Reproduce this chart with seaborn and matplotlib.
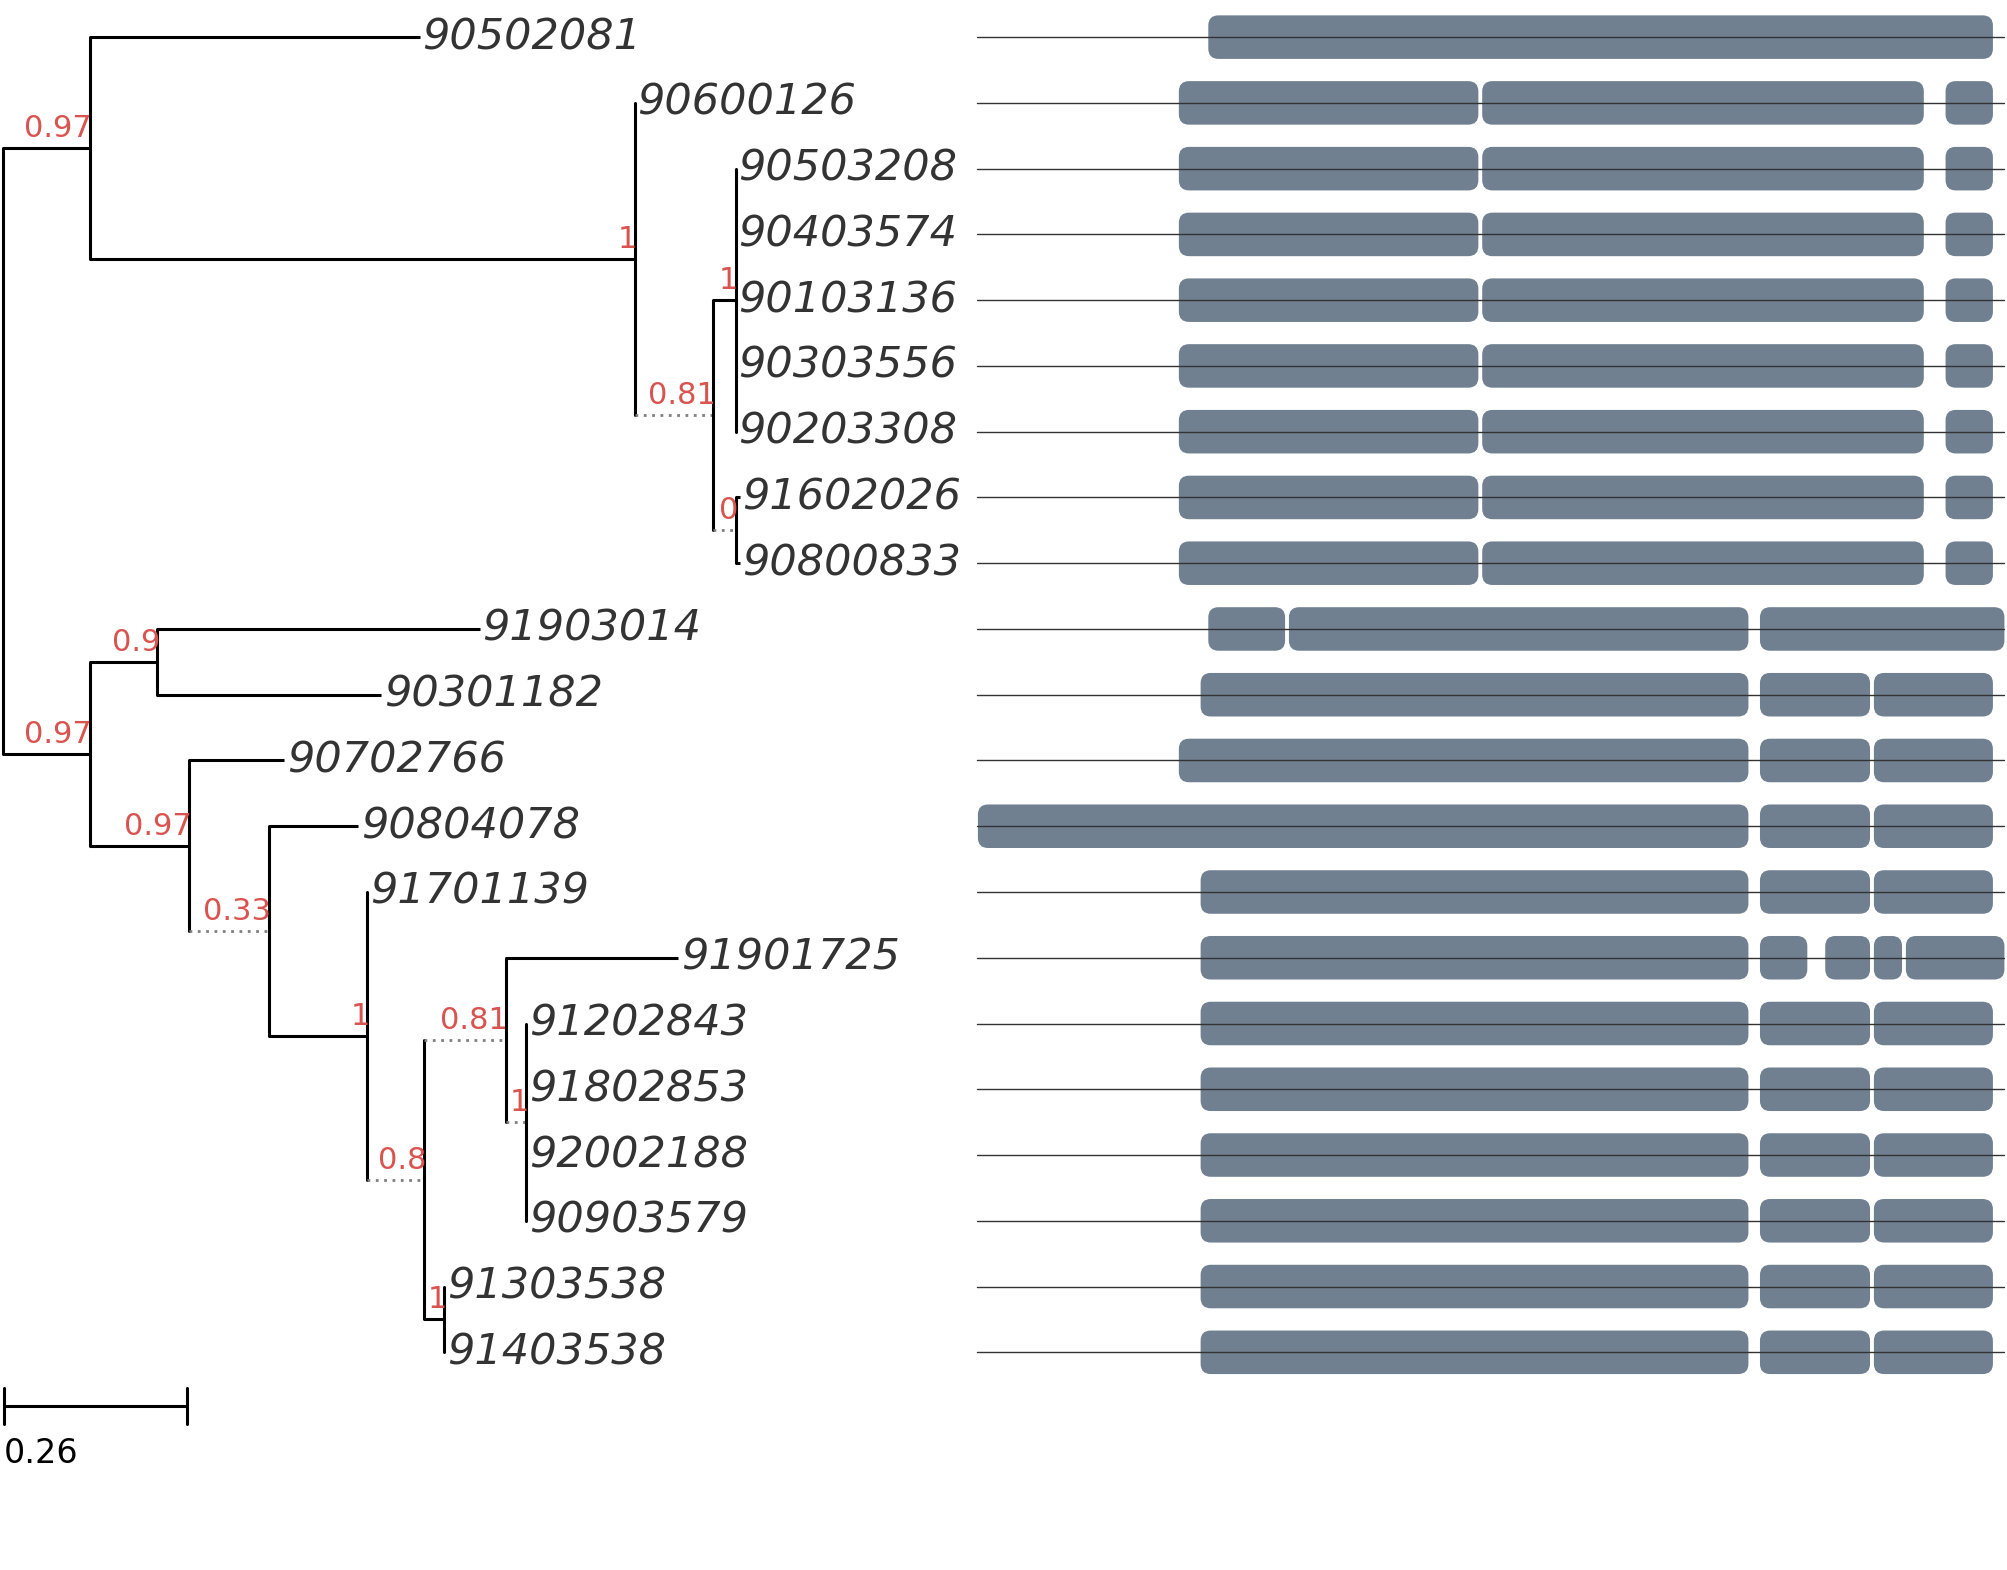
import seaborn as sns
import matplotlib.pyplot as plt
from matplotlib.patches import FancyBboxPatch

# leaf order (top to bottom) and tip depth (tree units, px-like)
leaf_names = ["90502081", "90600126", "90503208", "90403574", "90103136", "90303556",
              "90203308", "91602026", "90800833", "91903014", "90301182", "90702766",
              "90804078", "91701139", "91901725", "91202843", "91802853", "92002188",
              "90903579", "91303538", "91403538"]
leaf_tips = [328, 496, 575, 575, 575, 575, 575, 578, 578, 375, 298, 222,
             280, 287, 530, 411, 411, 411, 411, 347, 347]

# internal nodes: name -> (depth, support, children, dotted stem)
nodes = {
    "root": (2, None, ["A", "F"], False),
    "A": (70, "0.97", [0, "B"], False),
    "B": (496, "1", [1, "C"], False),
    "C": (557, "0.81", ["D", "E"], True),
    "D": (575, "1", [2, 3, 4, 5, 6], False),
    "E": (575, "0", [7, 8], True),
    "F": (70, "0.97", ["G", "H"], False),
    "G": (123, "0.9", [9, 10], False),
    "H": (148, "0.97", [11, "I"], False),
    "I": (210, "0.33", [12, "J"], True),
    "J": (287, "1", [13, "K"], False),
    "K": (331, "0.8", ["L", "N"], True),
    "L": (395, "0.81", [14, "M"], True),
    "M": (411, "1", [15, 16, 17, 18], True),
    "N": (347, "1", [19, 20], False),
}

# gene structure blocks (exon start, end) per leaf
exons_a = [(921, 1155), (1158, 1503), (1520, 1557)]
exons_b = [(938, 1366), (1375, 1461), (1464, 1557)]
gene_blocks = [[(944, 1557)]] + [exons_a] * 8 + [
    [(944, 1004), (1007, 1366), (1375, 1566)],
    exons_b,
    [(921, 1366), (1375, 1461), (1464, 1557)],
    [(764, 1366), (1375, 1461), (1464, 1557)],
    exons_b,
    [(938, 1366), (1375, 1412), (1426, 1461), (1464, 1486), (1489, 1566)],
] + [exons_b] * 6
gene_start, gene_end = 763, 1566
scale_len = 143
scale_label = "0.26"

sns.set_style("white")
plt.rcParams['font.family'] = ['DejaVu Sans']
fig = plt.figure(figsize=(20.07, 15.70), dpi=100)
ax = fig.add_axes([0, 0, 1, 1])
ax.set_xlim(0, 1568)
ax.set_ylim(1226, 0)
ax.axis("off")

row_y = [29 + i * 51.35 for i in range(len(leaf_names))]
red = "#d9534f"


def node_y(key):
    if isinstance(key, int):
        return row_y[key]
    return sum(node_y(c) for c in nodes[key][2]) / len(nodes[key][2])


def draw(key, parent_x):
    if isinstance(key, int):
        y = row_y[key]
        x = leaf_tips[key]
        ax.plot([parent_x, x], [y, y], color="black", lw=2.2, solid_capstyle="butt")
        ax.text(x + 2, y, leaf_names[key], fontsize=31, style="italic",
                color="#333333", va="center", ha="left")
        return
    x, sup, children, dotted = nodes[key]
    y = node_y(key)
    if parent_x is not None:
        if dotted:
            ax.plot([parent_x, x], [y, y], color="gray", lw=2, ls=(0, (1, 2)))
        else:
            ax.plot([parent_x, x], [y, y], color="black", lw=2.2, solid_capstyle="butt")
    ys = [node_y(c) for c in children]
    ax.plot([x, x], [min(ys), max(ys)], color="black", lw=2.2)
    if sup is not None:
        ax.text(x + 2, y - 4, sup, fontsize=22, color=red, ha="right", va="bottom")
    for c in children:
        draw(c, x)


draw("root", None)

# gene structures
for y, blocks in zip(row_y, gene_blocks):
    ax.plot([gene_start, gene_end], [y, y], color="#333333", lw=1)
    for s, e in blocks:
        ax.add_patch(FancyBboxPatch((s, y - 17), e - s, 34,
                                    boxstyle="round,pad=0,rounding_size=8",
                                    fc="slategray", ec="none"))

# scale bar
ax.plot([3, 3 + scale_len], [1098, 1098], color="black", lw=2.2)
ax.plot([3, 3], [1084, 1112], color="black", lw=2.2)
ax.plot([3 + scale_len, 3 + scale_len], [1084, 1112], color="black", lw=2.2)
ax.text(3, 1135, scale_label, fontsize=24, color="black", ha="left", va="center")

fig.savefig("out.png", dpi=100)
